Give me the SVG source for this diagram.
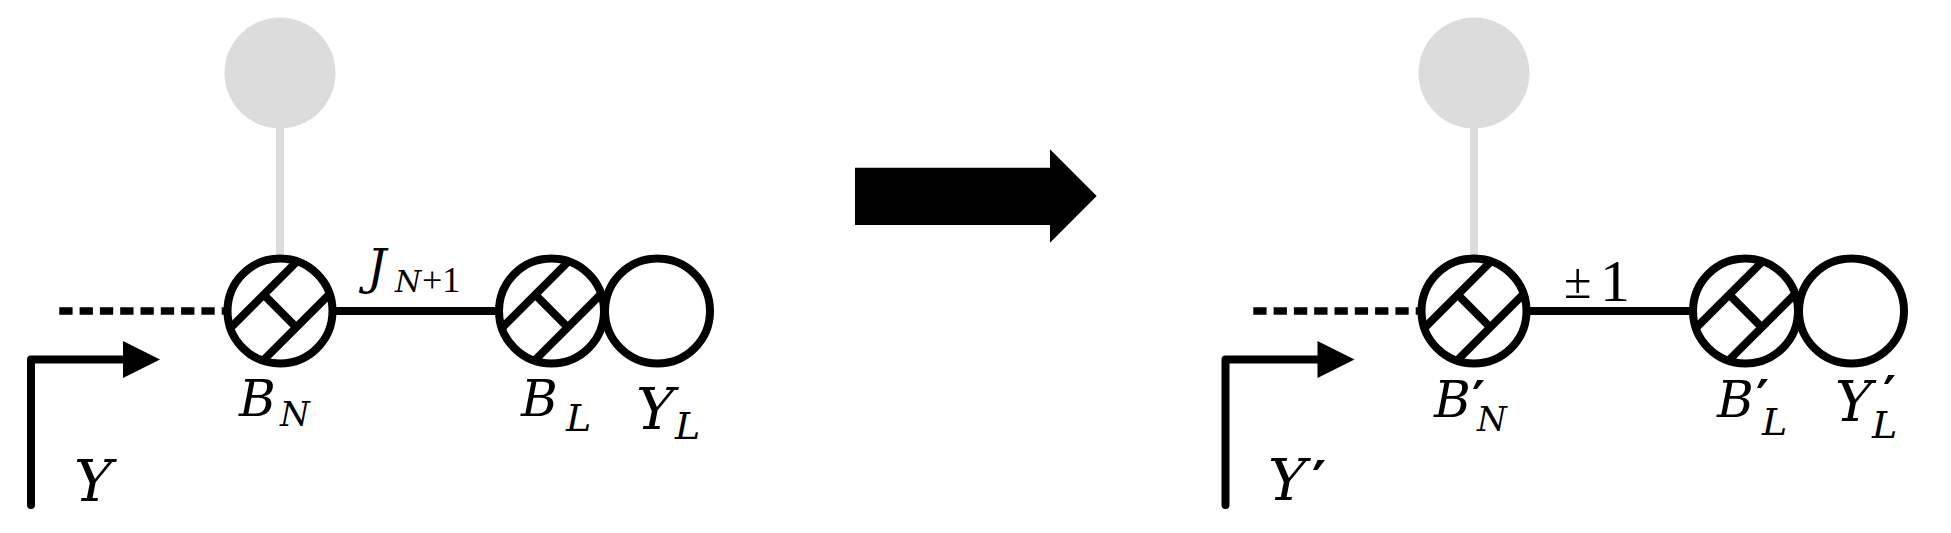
<svg xmlns="http://www.w3.org/2000/svg" xmlns:xlink="http://www.w3.org/1999/xlink" width="1951" height="533" viewBox="0 0 1951 533">
<style>
.ring{fill:#fff;stroke:#000;stroke-width:8}
.hatch{stroke:#000;stroke-width:8;fill:none}
.edge{stroke:#000;stroke-width:8;fill:none}
.dash{stroke:#000;stroke-width:7.5;stroke-dasharray:13.3 7;fill:none}
.ghost{fill:#dcdcdc}
.ghostline{stroke:#dcdcdc;stroke-width:8}
.m{font-family:"DejaVu Serif","Liberation Serif",serif;font-style:italic;fill:#000}
.r{font-family:"Liberation Serif","DejaVu Serif",serif;font-style:normal;fill:#000}
.p{font-family:"DejaVu Serif","Liberation Serif",serif;font-style:normal;font-weight:bold}
</style>
<defs>
<g id="hatched">
<circle class="ring" cx="0" cy="0" r="52.5"/>
<line class="hatch" x1="16.9" y1="-49.5" x2="-49.5" y2="16.9"/>
<line class="hatch" x1="49.5" y1="-16.9" x2="-16.9" y2="49.5"/>
<line class="hatch" x1="-16.3" y1="-16.3" x2="16.3" y2="16.3"/>
</g>
<g id="axis">
<path d="M31,505 V359.5 H124" stroke="#000" stroke-width="8" fill="none" stroke-linecap="round" stroke-linejoin="round"/>
<polygon points="123,341 160,359.5 123,378" fill="#000"/>
</g>
</defs>

<g id="connectors">
<line class="ghostline" x1="280" y1="120" x2="280" y2="262"/>
<line class="dash" x1="59.3" y1="311" x2="228" y2="311"/>
<line class="edge" x1="330" y1="311" x2="500" y2="311"/>
<line class="ghostline" x1="1474" y1="120" x2="1474" y2="262"/>
<line class="dash" x1="1253.3" y1="311" x2="1422" y2="311"/>
<line class="edge" x1="1524" y1="311" x2="1694" y2="311"/>
</g>

<g id="left-ghost"><circle class="ghost" cx="280" cy="73" r="55.5"/></g>
<g id="left-BN"><use xlink:href="#hatched" href="#hatched" x="280" y="311"/></g>
<g id="left-BL"><use xlink:href="#hatched" href="#hatched" x="551.5" y="311"/></g>
<g id="left-YL"><circle class="ring" cx="657.5" cy="311" r="52.5"/></g>
<g id="left-axis"><use xlink:href="#axis" href="#axis"/></g>

<g id="left-labels">
<text class="m" x="239" y="416" font-size="50">B<tspan x="280" y="426" font-size="34">N</tspan></text>
<text class="m" x="367" y="284" font-size="48">J<tspan x="395" y="292" font-size="30">N</tspan><tspan class="r" x="422" y="292" font-size="36">+1</tspan></text>
<text class="m" x="521" y="416" font-size="50">B<tspan x="566" y="431" font-size="38">L</tspan></text>
<text class="m" x="636" y="429" font-size="58">Y<tspan x="675" y="439" font-size="38">L</tspan></text>
<text class="m" x="74" y="501" font-size="58">Y</text>
</g>

<g id="transform-arrow">
<polygon points="855,167.7 1050,167.7 1050,149.3 1096.7,196 1050,242.7 1050,225 855,225" fill="#000"/>
</g>

<g id="right-ghost"><circle class="ghost" cx="1474" cy="73" r="55.5"/></g>
<g id="right-BN"><use xlink:href="#hatched" href="#hatched" x="1474" y="311"/></g>
<g id="right-BL"><use xlink:href="#hatched" href="#hatched" x="1745.5" y="311"/></g>
<g id="right-YL"><circle class="ring" cx="1851.5" cy="311" r="52.5"/></g>
<g id="right-axis"><use xlink:href="#axis" href="#axis" x="1194.5" y="0"/></g>

<g id="right-labels">
<text class="m" x="1434" y="417" font-size="50">B<tspan class="p" x="1472" y="417" font-size="50">′</tspan><tspan x="1477" y="431" font-size="34">N</tspan></text>
<text class="r" x="1564" y="298" font-size="50">±<tspan x="1600" y="301" font-size="60">1</tspan></text>
<text class="m" x="1717" y="417" font-size="50">B<tspan class="p" x="1756" y="416" font-size="50">′</tspan><tspan x="1762" y="435" font-size="38">L</tspan></text>
<text class="m" x="1835" y="421" font-size="56">Y<tspan class="p" x="1883" y="412" font-size="50">′</tspan><tspan x="1872" y="438" font-size="38">L</tspan></text>
<text class="m" x="1268" y="500" font-size="58">Y<tspan class="p" x="1312" y="500" font-size="54">′</tspan></text>
</g>
</svg>
